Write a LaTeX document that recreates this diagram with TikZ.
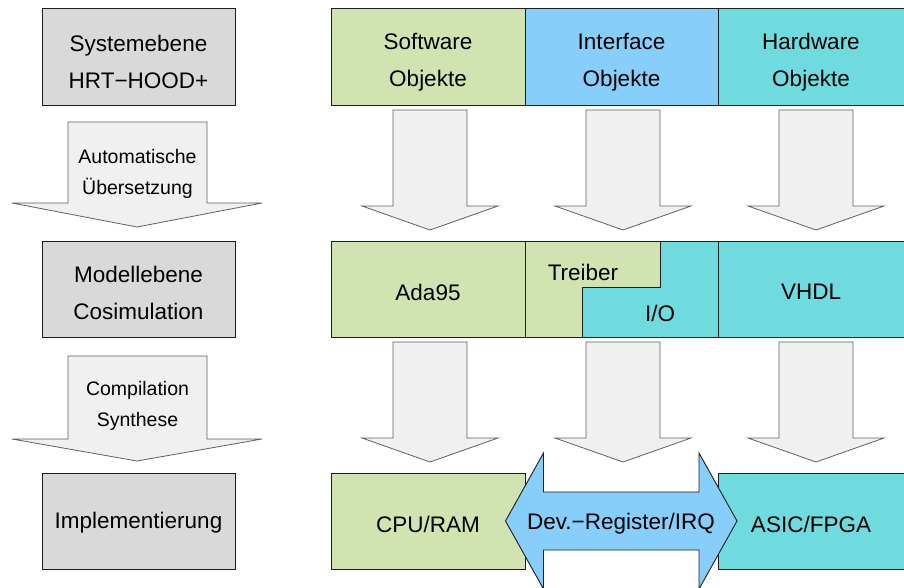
\documentclass[tikz,border=0pt]{standalone}
\usepackage{fontspec}
\setmainfont{Liberation Sans}
\definecolor{swgreen}{RGB}{208,227,176}
\definecolor{ifblue}{RGB}{135,206,250}
\definecolor{hwcyan}{RGB}{112,219,222}
\definecolor{lvgray}{RGB}{217,217,217}
\definecolor{arrgray}{RGB}{240,240,240}
\definecolor{edge}{RGB}{30,30,30}
\tikzset{
  box/.style={draw=edge, line width=0.9pt},
  blk/.style={draw=edge!70, line width=0.8pt, fill=arrgray},
  big/.style={font=\fontsize{22.5}{37}\selectfont, align=center, inner sep=0pt},
  small/.style={font=\fontsize{19.5}{31.5}\selectfont, align=center, inner sep=0pt},
}
\begin{document}
\begin{tikzpicture}[x=1pt,y=-1pt]
\useasboundingbox (0,0) rectangle (904,587);
% left level boxes
\draw[box, fill=lvgray] (42,8) rectangle (235,105);
\node[big] (sys) at (138.5,61.5) {Systemebene\\HRT−HOOD+};
\draw[box, fill=lvgray] (42,241) rectangle (235,337);
\node[big] (mod) at (138.5,293) {Modellebene\\Cosimulation};
\draw[box, fill=lvgray] (42,473) rectangle (235,569);
\node[big] (impl) at (138.5,523) {Implementierung};
% left block arrows
\draw[blk] (68,122) -- (207,122) -- (207,203) -- (262,203) -- (137,227) -- (12,203) -- (68,203) -- cycle;
\node[small] (auto) at (137.5,174) {Automatische\\Übersetzung};
\draw[blk] (68,356) -- (207,356) -- (207,439) -- (262,439) -- (137,461) -- (12,439) -- (68,439) -- cycle;
\node[small] (comp) at (137.5,406) {Compilation\\Synthese};
% top row
\draw[box, fill=swgreen] (331,8) rectangle (525,105);
\draw[box, fill=ifblue] (525,8) rectangle (718,105);
\draw[box, fill=hwcyan] (718,8) rectangle (910,105);
\node[big] (sw) at (428,62) {Software\\Objekte};
\node[big] (if) at (621.5,62) {Interface\\Objekte};
\node[big] (hw) at (811,62) {Hardware\\Objekte};
% column arrows row 1
\foreach \c/\n in {430/a1,623/a2,816/a3}{
  \draw[blk] (\c-37,110) -- (\c+37,110) -- (\c+37,206) -- (\c+68,206) -- (\c,230) -- (\c-68,206) -- (\c-37,206) -- cycle;
}
% middle row
\draw[box, fill=swgreen] (331,241) rectangle (525,337);
\draw[box, fill=hwcyan] (525,241) rectangle (718,337);
\fill[swgreen] (525,241) -- (660.5,241) -- (660.5,287) -- (582.7,287) -- (582.7,337) -- (525,337) -- cycle;
\draw[box] (525,241) rectangle (718,337);
\draw[box] (582.7,337) -- (582.7,287) -- (660.5,287) -- (660.5,241);
\draw[box, fill=hwcyan] (718,241) rectangle (910,337);
\node[big] (ada) at (428,292) {Ada95};
\node[big] (treiber) at (583,272) {Treiber};
\node[big] (io) at (660,313) {I/O};
\node[big] (vhdl) at (811,292) {VHDL};
% column arrows row 2
\foreach \c/\n in {430/b1,623/b2,816/b3}{
  \draw[blk] (\c-37,342) -- (\c+37,342) -- (\c+37,438) -- (\c+68,438) -- (\c,462) -- (\c-68,438) -- (\c-37,438) -- cycle;
}
% bottom row
\draw[box, fill=swgreen] (331,473) rectangle (525,569);
\draw[box, fill=hwcyan] (718,473) rectangle (910,569);
\draw[box, fill=ifblue] (543.5,492) -- (699,492) -- (699,453) -- (737,521) -- (699,589) -- (699,550) -- (543.5,550) -- (543.5,589) -- (505.5,521) -- (543.5,453) -- cycle;
\node[big] (cpu) at (428,524) {CPU/RAM};
\node[big] (dev) at (621,524) {Dev.−Register/IRQ};
\node[big] (asic) at (811,524) {ASIC/FPGA};
\end{tikzpicture}
\end{document}
